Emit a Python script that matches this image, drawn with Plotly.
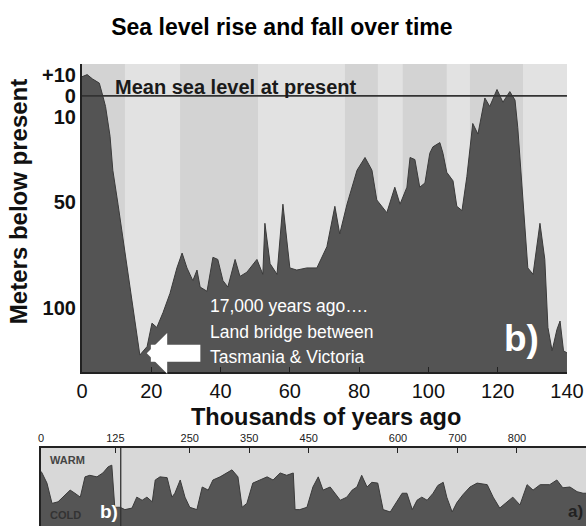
import plotly.graph_objects as go

# ---------------- data ----------------
# Main panel: sea level (metres below present) vs age (thousands of years ago)
AGE_KA = [0, 1.5, 3, 5, 6, 6.8, 8.1, 8.9, 10.4, 11.8, 13.3, 14.7, 15.9, 16.7, 18.8, 20.2,
          21.6, 23.4, 25.4, 27.4, 28.9, 30.3, 32.0, 33.2, 34.1, 36.1, 37.8, 39.2, 40.7,
          42.1, 44.2, 45.6, 47.6, 50.5, 52.2, 52.8, 54.3, 56.3, 58.0, 60.0, 62.0, 64.9,
          67.8, 70.7, 73.0, 74.4, 76.5, 79.4, 81.7, 83.7, 85.1, 88.0, 90.3, 91.8, 93.8,
          94.7, 96.1, 97.5, 99.0, 100.4, 101.3, 103.3, 104.2, 105.3, 107.1, 108.2, 109.7,
          111.1, 112.8, 114.3, 116.3, 117.7, 119.8, 121.5, 123.5, 125.0, 125.8, 127.3,
          128.7, 130.2, 132.2, 133.6, 134.5, 135.7, 137.1, 138.0, 139.0, 140.0]
DEPTH_M = [-9, -10, -8, -6, 0, 5, 19, 35, 51, 67, 82, 98, 114, 122, 118, 107,
           109, 102, 93, 81, 74, 81, 87, 82, 90, 92, 76, 77, 87,
           90, 77, 85, 83, 77, 84, 60, 79, 84, 51, 81, 82, 81,
           81, 71, 52, 65, 51, 35, 29, 35, 49, 55, 43, 51, 43,
           29, 30, 43, 41, 27, 24, 22, 27, 36, 40, 52, 54,
           38, 13, 18, 1, 5, -3, 3, -2, 2, 15, 49,
           81, 84, 60, 77, 109, 120, 110, 106, 120, 121]
DEPTH_FLOOR = 130          # bottom of the depth axis
DEPTH_TOP = -15            # top of the depth axis
MAIN_TICKS = [-10, 0, 10, 50, 100]
MAIN_TICK_TEXT = ["+10", "0", "10", "50", "100"]
AGE_TICKS = [0, 20, 40, 60, 80, 100, 120, 140]
# alternating shaded periods in the background (ka)
BANDS = [(0, 12.4), (28.3, 50.8), (75.9, 85.4), (92.6, 105.3), (112.0, 127.3)]

NOTE_LINES = ["17,000 years ago….", "Land bridge between", "Tasmania &amp; Victoria"]
NOTE_DEPTHS = [99.1, 111.3, 123.1]

# Lower strip: long climate record (ka), relative warmth index 0 (cold) .. 10 (warm)
LONG_KA = [0, 1.7, 10, 18.5, 28.6, 40, 49, 57, 66, 74, 82, 94, 104, 113, 119, 124, 133,
           141, 153, 161, 170, 178, 187, 192, 200, 212, 220, 225, 234, 242, 250, 262,
           271, 281, 289, 301, 313, 321, 331, 338, 346, 356, 368, 380, 390, 402, 413,
           424, 427, 435, 447, 457, 466, 474, 486, 494, 503, 514, 523, 531, 539, 548,
           556, 566, 575, 587, 595, 607, 615, 624, 632, 640, 649, 659, 667, 676, 682,
           691, 699, 709, 721, 733, 750, 760, 771, 783, 793, 805, 817, 827, 839, 855,
           867, 877, 889, 901, 911, 916]
LONG_WARMTH = [7.0, 6.8, 5.5, 2.9, 3.1, 4.0, 4.6, 4.2, 3.7, 6.3, 6.5, 6.3, 6.8, 7.6, 7.8, 2.4, 2.4,
               2.1, 2.3, 3.7, 3.3, 3.7, 3.1, 5.9, 6.3, 6.2, 3.7, 4.2, 5.9, 3.7, 2.4, 2.1,
               5.0, 4.6, 5.9, 6.3, 6.9, 7.2, 6.3, 2.4, 2.9, 5.5, 5.9, 6.3, 5.9, 6.8, 6.5,
               6.8, 2.1, 2.1, 2.4, 5.0, 6.3, 4.6, 5.0, 4.2, 3.3, 3.7, 4.6, 5.0, 6.5, 5.0,
               5.6, 5.5, 2.1, 1.8, 2.7, 4.2, 4.2, 2.1, 3.3, 3.7, 3.3, 4.2, 5.2, 5.6, 3.7,
               1.8, 3.0, 4.0, 5.0, 5.5, 5.3, 3.7, 2.3, 3.1, 3.7, 2.7, 5.3, 4.6, 5.3, 5.3,
               5.9, 4.9, 5.0, 4.4, 4.2, 4.2]
LONG_TICKS = [0, 125, 250, 350, 450, 600, 700, 800]
LONG_RANGE = [0, 916]
LONG_DIVIDER_KA = 134

SANS = "Liberation Sans, Arial, Helvetica, sans-serif"
DARK = "#222222"

fig = go.Figure()

# main panel area
fig.add_trace(go.Scatter(x=[AGE_KA[0], AGE_KA[-1]], y=[DEPTH_FLOOR, DEPTH_FLOOR],
                         mode="lines", line=dict(width=0), hoverinfo="skip",
                         showlegend=False, xaxis="x", yaxis="y"))
fig.add_trace(go.Scatter(x=AGE_KA, y=DEPTH_M, mode="lines", fill="tonexty",
                         fillcolor="#545454", line=dict(color="#3a3a3a", width=1),
                         showlegend=False, xaxis="x", yaxis="y"))

# lower strip area
fig.add_trace(go.Scatter(x=LONG_KA, y=LONG_WARMTH, mode="lines", fill="tozeroy",
                         fillcolor="#555555", line=dict(color="#3a3a3a", width=1),
                         showlegend=False, xaxis="x2", yaxis="y2"))

shapes = []
for a, b in BANDS:
    shapes.append(dict(type="rect", xref="x", yref="y", x0=a, x1=b, y0=DEPTH_TOP, y1=DEPTH_FLOOR,
                       fillcolor="#d3d3d3", line=dict(width=0), layer="below"))
shapes.append(dict(type="rect", xref="x2", yref="y2", x0=LONG_RANGE[0], x1=LONG_RANGE[1],
                   y0=0, y1=10, fillcolor="#d8d8d8", line=dict(width=0), layer="below"))
shapes.append(dict(type="line", xref="x", yref="y", x0=0, x1=140, y0=0, y1=0,
                   line=dict(color="#333333", width=1.6)))
shapes.append(dict(type="line", xref="x2", yref="y2", x0=LONG_DIVIDER_KA, x1=LONG_DIVIDER_KA,
                   y0=0, y1=10, line=dict(color="#333333", width=1.3)))

annotations = [
    dict(text="<b>Mean sea level at present</b>", x=8.9, y=-4, xref="x", yref="y",
         xanchor="left", yanchor="middle", showarrow=False,
         font=dict(family=SANS, size=20, color="#1a1a1a")),
    dict(text="", x=18.7, y=121.2, ax=34.6, ay=121.2, xref="x", yref="y",
         axref="x", ayref="y", showarrow=True, arrowhead=1, arrowsize=0.4,
         arrowwidth=17, arrowcolor="white"),
    dict(text="<b>b)</b>", x=127, y=114, xref="x", yref="y", showarrow=False,
         font=dict(family=SANS, size=37, color="white")),
    dict(text="<b>Meters below present</b>", x=-0.0422, y=0.701, xref="paper", yref="paper",
         textangle=-90, showarrow=False, xanchor="center", yanchor="middle",
         font=dict(family=SANS, size=24, color="#111111")),
    dict(text="<b>Thousands of years ago</b>", x=0.523, y=0.236, xref="paper", yref="paper",
         showarrow=False, xanchor="center", yanchor="middle",
         font=dict(family=SANS, size=23.5, color="#111111")),
    dict(text="<b>WARM</b>", x=11.8, y=8.5, xref="x2", yref="y2", xanchor="left",
         yanchor="middle", showarrow=False, font=dict(family=SANS, size=11, color="#444444")),
    dict(text="<b>COLD</b>", x=11.8, y=1.4, xref="x2", yref="y2", xanchor="left",
         yanchor="middle", showarrow=False, font=dict(family=SANS, size=11, color="#333333")),
    dict(text="<b>b)</b>", x=114, y=1.8, xref="x2", yref="y2", showarrow=False,
         font=dict(family=SANS, size=19, color="white")),
    dict(text="<b>a)</b>", x=899, y=1.8, xref="x2", yref="y2", showarrow=False,
         font=dict(family=SANS, size=17, color="#222222")),
]
for line, d in zip(NOTE_LINES, NOTE_DEPTHS):
    annotations.append(dict(text=line, x=36.4, y=d, xref="x", yref="y", xanchor="left",
                            yanchor="middle", showarrow=False,
                            font=dict(family=SANS, size=17.5, color="white")))

fig.update_layout(
    width=586, height=526,
    margin=dict(l=41, r=0, t=64, b=0, autoexpand=False),
    paper_bgcolor="white", plot_bgcolor="#e2e2e2",
    title=dict(text="<b>Sea level rise and fall over time</b>", x=0.481, y=0.949,
               xanchor="center", yanchor="middle", xref="container", yref="container",
               font=dict(family=SANS, size=23, color="black")),
    xaxis=dict(domain=[0.0752, 0.9651], anchor="y", range=[0, 140], tickvals=AGE_TICKS,
               ticks="inside", ticklen=5, tickcolor=DARK, showline=True, linecolor=DARK,
               linewidth=2, showgrid=False, zeroline=False, automargin=False,
               tickfont=dict(family=SANS, size=20, color="#111111"), tickprefix="<b>", ticksuffix="</b>"),
    yaxis=dict(domain=[0.3333, 1], anchor="x", range=[DEPTH_FLOOR, DEPTH_TOP],
               tickvals=MAIN_TICKS, ticktext=["<b>%s</b>" % t for t in MAIN_TICK_TEXT],
               ticks="", showline=True, linecolor=DARK, linewidth=2, showgrid=False,
               zeroline=False, automargin=False,
               tickfont=dict(family=SANS, size=20, color="#111111")),
    yaxis3=dict(overlaying="y", side="right", anchor="x", range=[DEPTH_FLOOR, DEPTH_TOP],
                tick0=0, dtick=10, ticks="inside", ticklen=6, tickcolor=DARK,
                showticklabels=False, showline=True, linecolor=DARK, linewidth=2,
                showgrid=False, zeroline=False, automargin=False),
    xaxis2=dict(domain=[0, 1], anchor="y2", side="top", range=LONG_RANGE, tickvals=LONG_TICKS,
                ticks="inside", ticklen=5, tickcolor=DARK, showline=True, linecolor=DARK,
                linewidth=1.5, showgrid=False, zeroline=False, automargin=False,
                tickfont=dict(family=SANS, size=11, color="#222222"), tickprefix="<b>", ticksuffix="</b>"),
    yaxis2=dict(domain=[0, 0.1688], anchor="x2", range=[0, 10], showticklabels=False,
                ticks="", showline=True, linecolor=DARK, linewidth=1.5, showgrid=False,
                zeroline=False, automargin=False),
    shapes=shapes,
    annotations=annotations,
)

fig.write_html("out.html", config={"displayModeBar": False},
               post_script="document.body.style.margin='0px';")
